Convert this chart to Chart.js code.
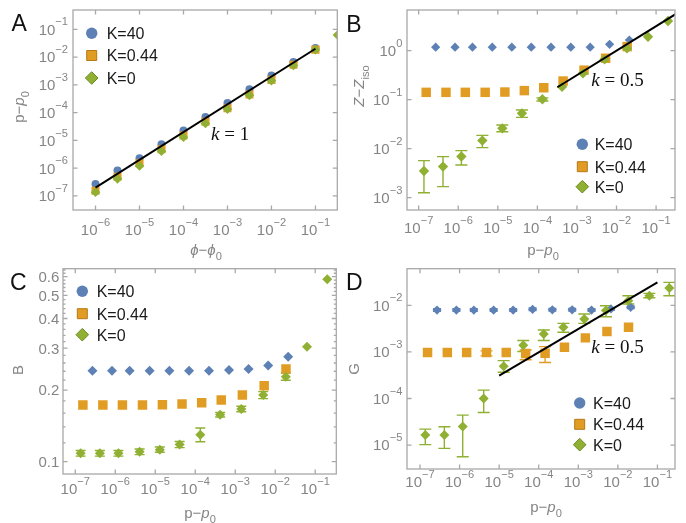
<!DOCTYPE html>
<html><head><meta charset="utf-8">
<script src="https://cdn.jsdelivr.net/npm/chart.js@4.4.1/dist/chart.umd.min.js"></script>
<style>
html,body{margin:0;padding:0;background:#fff;}
#wrap{position:relative;width:686px;height:523px;overflow:hidden;background:#fff;}
canvas{position:absolute;}
</style></head><body><div id="wrap">
<canvas id="cA" width="343" height="262" style="left:0;top:0"></canvas>
<canvas id="cB" width="343" height="262" style="left:343px;top:0"></canvas>
<canvas id="cC" width="343" height="261" style="left:0;top:262px"></canvas>
<canvas id="cD" width="343" height="261" style="left:343px;top:262px"></canvas>
</div>
<script>
// ---------------- DATA ----------------
const seriesLabels = ['K=40', 'K=0.44', 'K=0'];
// phi - phi0 (panel A x values)
const phi = [1e-6, 3.16e-6, 1e-5, 3.16e-5, 1e-4, 3.16e-4, 1e-3, 3.16e-3, 1e-2, 3.16e-2, 0.1, 0.316, 1];
// p - p0 (panel A y values; x values of panels B, C, D)
const pK40  = [2.69e-7, 8.3e-7, 2.29e-6, 7.24e-6, 2.26e-5, 7.0e-5, 2.21e-4, 7.0e-4, 2.16e-3, 6.68e-3, 2.11e-2];
const pK044 = [1.55e-7, 4.9e-7, 1.51e-6, 4.79e-6, 1.51e-5, 4.68e-5, 1.45e-4, 4.47e-4, 1.51e-3, 5.3e-3, 1.86e-2];
const pK0   = [1.36e-7, 4.12e-7, 1.2e-6, 4.07e-6, 1.3e-5, 4.07e-5, 1.34e-4, 4.2e-4, 1.42e-3, 5.0e-3, 1.84e-2, 6.25e-2, 0.2];
// Panel B: Z - Ziso
const zK40  = [1.18, 1.18, 1.18, 1.18, 1.18, 1.18, 1.18, 1.18, 1.18, 1.35, 1.65];
const zK044 = [0.141, 0.141, 0.141, 0.141, 0.143, 0.153, 0.175, 0.24, 0.40, 0.70, 1.21];
const zK0   = [0.0035, 0.0043, 0.0069, 0.0146, 0.026, 0.0526, 0.1016, 0.184, 0.344, 0.665, 1.12, 1.93, 4.03];
const zK0Lo = [0.00126, 0.00168, 0.00464, 0.0105, 0.0222, 0.0436, 0.094, null, null, null, null, null, null];
const zK0Hi = [0.00569, 0.00687, 0.0091, 0.0187, 0.0304, 0.0615, 0.109, null, null, null, null, null, null];
// Panel C: B
const bK40  = [0.241, 0.241, 0.241, 0.241, 0.241, 0.241, 0.241, 0.243, 0.245, 0.254, 0.276];
const bK044 = [0.173, 0.173, 0.173, 0.173, 0.1735, 0.1747, 0.177, 0.1816, 0.1906, 0.2086, 0.245];
const bK0   = [0.1084, 0.1084, 0.1084, 0.110, 0.1123, 0.1179, 0.1298, 0.1576, 0.1665, 0.1906, 0.2277, 0.304, 0.585];
const bK0Lo = [0.1055, 0.1055, 0.1055, 0.107, 0.1095, 0.1145, 0.1213, 0.154, 0.162, 0.184, 0.220, null, null];
const bK0Hi = [0.1113, 0.1113, 0.1113, 0.113, 0.1152, 0.1215, 0.1385, 0.161, 0.171, 0.197, 0.236, null, null];
// Panel D: G
const gK40  = [7.9e-3, 7.9e-3, 7.9e-3, 7.9e-3, 7.9e-3, 8.2e-3, 8.0e-3, 8.0e-3, 7.9e-3, 8.35e-3, 9.06e-3];
const gK40Lo = [7.4e-3, 7.4e-3, 7.4e-3, 7.4e-3, 7.4e-3, 7.7e-3, 7.5e-3, 7.5e-3, 7.4e-3, 7.8e-3, 8.5e-3];
const gK40Hi = [8.45e-3, 8.45e-3, 8.45e-3, 8.45e-3, 8.45e-3, 8.75e-3, 8.55e-3, 8.55e-3, 8.45e-3, 8.9e-3, 9.7e-3];
const gK044 = [9.7e-4, 9.7e-4, 9.7e-4, 9.7e-4, 9.7e-4, 9.2e-4, 9.3e-4, 1.26e-3, 2.0e-3, 2.73e-3, 3.38e-3];
const gK044Lo = [null, null, null, 8.2e-4, null, 6.8e-4, 5.9e-4, null, null, null, null];
const gK044Hi = [null, null, null, 1.05e-3, null, 1.1e-3, 1.3e-3, null, null, null, null];
const gK0   = [1.64e-5, 1.64e-5, 2.51e-5, 1.0e-4, 4.93e-4, 1.39e-3, 2.43e-3, 3.38e-3, 5.1e-3, 7.7e-3, 1.26e-2, 1.61e-2, 2.35e-2];
const gK0Lo = [1.02e-5, 8.5e-6, 5.6e-6, 5.0e-5, 3.66e-4, 1.02e-3, 1.75e-3, 2.64e-3, 4.1e-3, 5.7e-3, 1.07e-2, 1.45e-2, 1.61e-2];
const gK0Hi = [2.2e-5, 2.47e-5, 4.4e-5, 1.51e-4, 6.5e-4, 1.75e-3, 2.96e-3, 4.1e-3, 6.5e-3, 9.8e-3, 1.61e-2, 1.8e-2, 3.11e-2];
// Fit lines (k = slope)
const lineAx = [1e-6, 0.1],  lineAy = [2e-7, 2e-2];
const lineBx = [3.2e-4, 1],  lineBy = [0.179, 10];
const lineDx = [1e-5, 0.1],  lineDy = [3.1e-4, 3.1e-2];
// Tick values
const xTicksA = [1e-6, 1e-5, 1e-4, 1e-3, 1e-2, 1e-1];
const yTicksA = [1e-7, 1e-6, 1e-5, 1e-4, 1e-3, 1e-2, 1e-1];
const xTicksP = [1e-7, 1e-6, 1e-5, 1e-4, 1e-3, 1e-2, 1e-1];
const yTicksB = [1e-3, 1e-2, 1e-1, 1];
const yTicksC = [0.1, 0.2, 0.3, 0.4, 0.5, 0.6];
const yMinorC = [0.12, 0.14, 0.16, 0.18, 0.22, 0.24, 0.26, 0.28, 0.32, 0.34, 0.36, 0.38, 0.42, 0.44, 0.46, 0.48, 0.52, 0.54, 0.56, 0.58, 0.62, 0.64];
const yTicksD = [1e-5, 1e-4, 1e-3, 1e-2];

// ---------------- STYLE ----------------
const FAM = '"Liberation Sans", Arial, sans-serif';
const SERIF = '"Liberation Serif", "DejaVu Serif", serif';
const GRAY = '#858585';
const FRAME = '#a8a8a8';
const COL = ['#5E81B5', '#E19C24', '#8FB032'];
const EDGE = ['#4c6d9e', '#b57a14', '#6c8a22'];

function pts(xs, ys) { return ys.map((y, i) => ({ x: xs[i], y: y })); }

function drawRich(ctx, segs, x, y, size, align) {
  const parts = segs.map(s => {
    const sz = (s.sup || s.sub) ? size * 0.74 : size;
    const font = (s.it ? 'italic ' : '') + sz + 'px ' + (s.serif ? SERIF : FAM);
    ctx.font = font;
    return { s, font, w: ctx.measureText(s.t).width, dy: s.sup ? -size * 0.62 : (s.sub ? size * 0.3 : 0) };
  });
  const tw = parts.reduce((a, p) => a + p.w, 0);
  let cx = align === 'center' ? x - tw / 2 : (align === 'right' ? x - tw : x);
  ctx.textAlign = 'left'; ctx.textBaseline = 'alphabetic';
  for (const p of parts) { ctx.font = p.font; ctx.fillText(p.s.t, cx, y + p.dy); cx += p.w; }
}
function powSegs(v) {
  const e = Math.round(Math.log10(v));
  return [{ t: '10' }, { t: (e < 0 ? '\u2212' : '') + Math.abs(e), sup: true }];
}
function marker(ctx, style, x, y, r, fill, stroke) {
  ctx.beginPath();
  if (style === 'circle') ctx.arc(x, y, r, 0, Math.PI * 2);
  else if (style === 'rect') ctx.rect(x - r, y - r, 2 * r, 2 * r);
  else { ctx.moveTo(x, y - r); ctx.lineTo(x + r, y); ctx.lineTo(x, y + r); ctx.lineTo(x - r, y); ctx.closePath(); }
  ctx.fillStyle = fill; ctx.fill();
  if (stroke) { ctx.strokeStyle = stroke; ctx.lineWidth = 1; ctx.stroke(); }
}

function panelPlugin(sp) {
  return {
    id: 'panel' + sp.letter,
    beforeDatasetsDraw(chart) {
      const { ctx, chartArea: a, scales: { x, y } } = chart;
      ctx.save();
      ctx.beginPath(); ctx.rect(a.left, a.top, a.right - a.left, a.bottom - a.top); ctx.clip();
      chart.data.datasets.forEach(ds => {
        if (!ds.errLo) return;
        ctx.strokeStyle = ds.backgroundColor; ctx.lineWidth = 1.4;
        ds.data.forEach((d, j) => {
          if (ds.errLo[j] == null) return;
          const px = x.getPixelForValue(d.x);
          const y1 = y.getPixelForValue(ds.errLo[j]), y2 = y.getPixelForValue(ds.errHi[j]);
          const cw = ds.capW || 5;
          ctx.beginPath();
          ctx.moveTo(px, y1); ctx.lineTo(px, y2);
          ctx.moveTo(px - cw, y1); ctx.lineTo(px + cw, y1);
          ctx.moveTo(px - cw, y2); ctx.lineTo(px + cw, y2);
          ctx.stroke();
        });
      });
      ctx.restore();
    },
    afterDraw(chart) {
      const { ctx, chartArea: a, scales: { x, y } } = chart;
      ctx.save();
      ctx.strokeStyle = FRAME; ctx.lineWidth = 1.3;
      ctx.strokeRect(a.left, a.top, a.right - a.left, a.bottom - a.top);
      ctx.beginPath();
      const TL = 4.5, TM = 2.5;
      sp.xt.forEach(v => { const px = x.getPixelForValue(v);
        ctx.moveTo(px, a.bottom); ctx.lineTo(px, a.bottom - TL); ctx.moveTo(px, a.top); ctx.lineTo(px, a.top + TL); });
      sp.yt.forEach(v => { const py = y.getPixelForValue(v);
        ctx.moveTo(a.left, py); ctx.lineTo(a.left + TL, py); ctx.moveTo(a.right, py); ctx.lineTo(a.right - TL, py); });
      (sp.ym || []).forEach(v => { const py = y.getPixelForValue(v);
        if (py < a.top || py > a.bottom) return;
        ctx.moveTo(a.left, py); ctx.lineTo(a.left + TM, py); ctx.moveTo(a.right, py); ctx.lineTo(a.right - TM, py); });
      ctx.stroke();
      // tick labels
      ctx.fillStyle = GRAY;
      sp.xt.forEach(v => drawRich(ctx, powSegs(v), x.getPixelForValue(v), sp.xLabY, 15, 'center'));
      sp.yt.forEach(v => {
        const segs = sp.yNum ? [{ t: v.toFixed(1) }] : powSegs(v);
        drawRich(ctx, segs, sp.yLabX, y.getPixelForValue(v) + 5.4, 15, 'right');
      });
      // axis titles
      drawRich(ctx, sp.xTitle, sp.xTitlePos[0], sp.xTitlePos[1], 15, 'center');
      ctx.save(); ctx.translate(sp.yTitlePos[0], sp.yTitlePos[1]); ctx.rotate(-Math.PI / 2);
      drawRich(ctx, sp.yTitle, 0, 0, 15, 'center'); ctx.restore();
      // panel letter
      ctx.fillStyle = '#111'; ctx.font = '23px ' + FAM; ctx.textAlign = 'left'; ctx.textBaseline = 'alphabetic';
      ctx.fillText(sp.letter, sp.letterPos[0], sp.letterPos[1]);
      // legend
      const styles = ['circle', 'rect', 'diamond'], rad = [5.7, 5, 6.3];
      seriesLabels.forEach((lab, i) => {
        const ly = sp.leg.y[i];
        marker(ctx, styles[i], sp.leg.x, ly, rad[i], COL[i], i === 0 ? null : EDGE[i]);
        ctx.fillStyle = '#1a1a1a'; ctx.font = '16px ' + FAM; ctx.textAlign = 'left'; ctx.textBaseline = 'alphabetic';
        ctx.fillText(lab, sp.leg.tx, ly + 5.8);
      });
      // slope annotation
      ctx.fillStyle = '#111';
      drawRich(ctx, [{ t: 'k', it: true, serif: true }, { t: ' = ' + sp.kText, serif: true }], sp.kPos[0], sp.kPos[1], 19, 'left');
      ctx.restore();
    }
  };
}

function makeChart(sp, datasets) {
  new Chart(document.getElementById(sp.id), {
    type: 'scatter',
    data: { datasets },
    options: {
      responsive: false, animation: false, devicePixelRatio: 1,
      layout: { padding: sp.pad },
      plugins: { legend: { display: false }, tooltip: { enabled: false } },
      scales: {
        x: { type: 'logarithmic', display: false, bounds: 'data', min: Math.pow(10, sp.xr[0]), max: Math.pow(10, sp.xr[1]) },
        y: { type: 'logarithmic', display: false, bounds: 'data', min: Math.pow(10, sp.yr[0]), max: Math.pow(10, sp.yr[1]) }
      }
    },
    plugins: [panelPlugin(sp)]
  });
}
function ser(i, data, style, r, extra) {
  return Object.assign({ label: seriesLabels[i], data, backgroundColor: COL[i], borderColor: COL[i],
    pointStyle: style, pointRadius: r, pointBorderWidth: 0, pointHoverRadius: r, order: 3 - i + 1, showLine: false }, extra || {});
}
function fit(data) {
  return { label: 'fit', data, showLine: true, borderColor: '#000', backgroundColor: '#000', borderWidth: 2, pointRadius: 0, order: 0 };
}

const pTitle = [{ t: 'p\u2212' }, { t: 'p', it: true }, { t: '0', sub: true }];

// Panel A
makeChart({ id: 'cA', letter: 'A', pad: { left: 73, top: 10, right: 4, bottom: 52 },
  xr: [-6.512, -0.503], yr: [-7.506, -0.304], xt: xTicksA, yt: yTicksA, xLabY: 235, yLabX: 68,
  xTitle: [{ t: '\u03D5', it: true }, { t: '\u2212' }, { t: '\u03D5', it: true }, { t: '0', sub: true }], xTitlePos: [206, 255],
  yTitle: pTitle, yTitlePos: [24, 107], letterPos: [11.5, 31],
  leg: { x: 91.7, y: [33.3, 55.5, 78], tx: 106.7 }, kText: '1', kPos: [211, 140] },
  [fit(pts(lineAx, lineAy)),
   ser(0, pts(phi, pK40), 'circle', 4),
   ser(1, pts(phi, pK044), 'rect', 5.7),
   ser(2, pts(phi, pK0), 'rectRot', 4.8)]);

// Panel B
makeChart({ id: 'cB', letter: 'B', pad: { left: 64, top: 10, right: 11, bottom: 52 },
  xr: [-7.295, -0.522], yr: [-3.252, 0.83], xt: xTicksP, yt: yTicksB, xLabY: 233, yLabX: 59.3,
  xTitle: pTitle, xTitlePos: [200, 255],
  yTitle: [{ t: 'Z', it: true }, { t: '\u2212' }, { t: 'Z', it: true }, { t: 'iso', sub: true }], yTitlePos: [21, 86], letterPos: [3.3, 31.7],
  leg: { x: 239.3, y: [144.3, 166.7, 186.7], tx: 251.7 }, kText: '0.5', kPos: [248.3, 86] },
  [fit(pts(lineBx, lineBy)),
   ser(0, pts(pK40, zK40), 'rectRot', 4.6),
   ser(1, pts(pK044, zK044), 'rect', 6.7),
   ser(2, pts(pK0, zK0), 'rectRot', 5.2, { errLo: zK0Lo, errHi: zK0Hi, capW: 6 })]);

// Panel C
makeChart({ id: 'cC', letter: 'C', pad: { left: 63, top: 6, right: 4, bottom: 49 },
  xr: [-7.307, -0.472], yr: [Math.log10(0.0887), Math.log10(0.648)], xt: xTicksP, yt: yTicksC, ym: yMinorC, yNum: true,
  xLabY: 232, yLabX: 59.3,
  xTitle: pTitle, xTitlePos: [200, 256],
  yTitle: [{ t: 'B' }], yTitlePos: [23.3, 108], letterPos: [10, 28.3],
  leg: { x: 82.3, y: [29.3, 51.7, 72.7], tx: 96.7 }, kText: '', kPos: [-100, -100] },
  [ser(0, pts(pK40, bK40), 'rectRot', 5),
   ser(1, pts(pK044, bK044), 'rect', 6.7),
   ser(2, pts(pK0, bK0), 'rectRot', 5, { errLo: bK0Lo, errHi: bK0Hi, capW: 5 })]);

// Panel D
makeChart({ id: 'cD', letter: 'D', pad: { left: 64, top: 6, right: 11, bottom: 54 },
  xr: [-7.329, -0.556], yr: [-5.514, -1.214], xt: xTicksP, yt: yTicksD, xLabY: 225, yLabX: 59.3,
  xTitle: pTitle, xTitlePos: [203, 250],
  yTitle: [{ t: 'G' }], yTitlePos: [15.5, 107], letterPos: [3, 28.3],
  leg: { x: 236.7, y: [141, 162.3, 182.7], tx: 250 }, kText: '0.5', kPos: [248.3, 90.7] },
  [fit(pts(lineDx, lineDy)),
   ser(0, pts(pK40, gK40), 'rectRot', 4.6, { errLo: gK40Lo, errHi: gK40Hi, capW: 4 }),
   ser(1, pts(pK044, gK044), 'rect', 6.7, { errLo: gK044Lo, errHi: gK044Hi, capW: 6 }),
   ser(2, pts(pK0, gK0), 'rectRot', 5, { errLo: gK0Lo, errHi: gK0Hi, capW: 6 })]);
</script>
</body></html>
